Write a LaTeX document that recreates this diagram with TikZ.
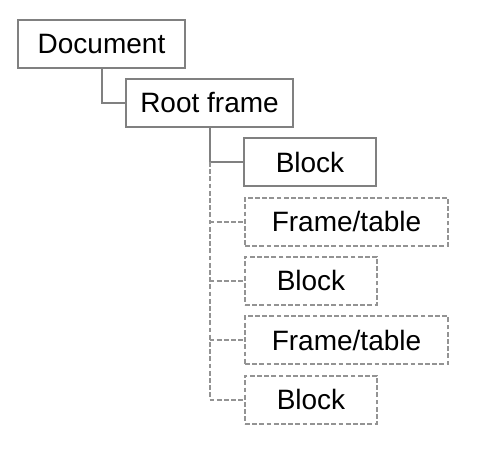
\documentclass[tikz,border=0pt]{standalone}
\usepackage{fontspec}
\setmainfont{Liberation Sans}
\begin{document}
\begin{tikzpicture}[x=.5pt, y=-.5pt, line width=1pt,
		box/.style={draw=gray, rectangle, inner sep=0mm, minimum height=24pt, font=\fontsize{14}{16}\selectfont},
		opt/.style={box, draw=gray!85, dash pattern=on 2.4pt off 1.2pt}]
		\useasboundingbox (0,0) rectangle (480,449);
		%\draw[help lines] (0,0) grid (480,449);
		
		\node[box, minimum width=83.5pt] (doc) at (101.5, 44) {Document};
		\node[box, minimum width=83.5pt] (root) at (209.5, 103) {Root frame};
		\node[box, minimum width=66pt] (c1) at (310, 162) {Block};
		
		\foreach \n\s\w\t in {2/Frame\slash table/101.5/221.5, 3/Block/66/280.5,
			4/Frame\slash table/101.5/340, 5/Block/66/399.5}
		\node[opt, minimum width=\w pt, anchor=west] (c\n) at (244, \t) {\s};
		
		\draw[gray] (doc.south) |- (root.west);
		\draw[gray] (root.south) |- (c1.west);
		\draw[opt] (root.south |- c1.west) |- (c5.west);
		
		\foreach \n in {2,3,4}
		\draw[opt] (root.south |- c\n.west) -- (c\n.west);
	\end{tikzpicture}
\end{document}
